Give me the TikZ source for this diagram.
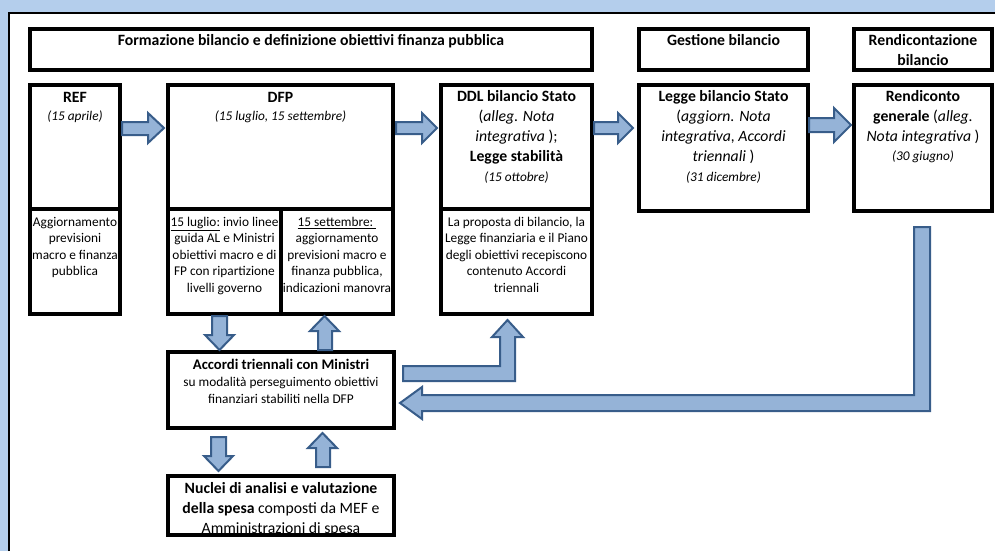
\documentclass[tikz,border=0pt]{standalone}
\usepackage{fontspec}
\setmainfont{Carlito}
\usetikzlibrary{positioning, fit}
\definecolor{slideblue}{RGB}{180,206,236}
\definecolor{arrowfill}{RGB}{149,179,215}
\definecolor{arrowline}{RGB}{56,93,138}
\newcommand{\datesz}{\fontsize{10}{12.4}\selectfont\itshape}
\tikzset{
	box/.style={draw, line width=2.3pt, inner sep=0pt},
	bigtext/.style={align=center, inner sep=1pt, font=\fontsize{11.8}{15}\selectfont},
	smalltext/.style={align=center, inner sep=1pt, font=\fontsize{10}{12.4}\selectfont},
	blockarrow/.style={fill=arrowfill, draw=arrowline, line width=1.5pt, line join=miter}
}

\begin{document}
\begin{tikzpicture}[x=0.75pt, y=-0.75pt]
		\useasboundingbox (0,0) rectangle (995,551);
		
		% Slide background
		\fill[slideblue] (0,0) rectangle (995,551);
		\fill[white] (9,13) rectangle (995,551);
		\draw[line width=1.5pt] (9,551) -- (9,13) -- (995,13);
		
		% Phase headers
		\node[box, fit={(30,29) (592,70)}] (phaseForm) {};
		\node[box, fit={(639,29) (808,70)}] (phaseGest) {};
		\node[box, fit={(854,29) (992,70)}] (phaseRend) {};
		\node[bigtext, below=4pt of phaseForm.north] (phaseFormT) {\textbf{Formazione bilancio e definizione obiettivi finanza pubblica}};
		\node[bigtext, below=4pt of phaseGest.north] (phaseGestT) {\textbf{Gestione bilancio}};
		\node[bigtext, below=4pt of phaseRend.north] (phaseRendT) {\textbf{Rendicontazione}\\\textbf{bilancio}};
		
		% Documents (upper row)
		\node[box, fit={(30,85) (120,209)}] (ref) {};
		\node[box, fit={(30,209) (120,314)}] (refNote) {};
		\node[box, fit={(168,85) (393,209)}] (dfp) {};
		\node[box, fit={(168,209) (281,314)}] (dfpJul) {};
		\node[box, fit={(281,209) (393,314)}] (dfpSep) {};
		\node[box, fit={(441,85) (592,209)}] (ddl) {};
		\node[box, fit={(441,209) (592,314)}] (ddlNote) {};
		\node[box, fit={(639,85) (808,211)}] (legge) {};
		\node[box, fit={(854,85) (992,211)}] (rendiconto) {};
		
		\node[bigtext, below=5.5pt of ref.north] (refT) {\textbf{REF}\\[-1.5pt]{\datesz (15 aprile)}};
		\node[smalltext, below=6pt of refNote.north] (refNoteT) {Aggiornamento\\previsioni\\macro e finanza\\pubblica};
		\node[bigtext, below=5.5pt of dfp.north] (dfpT) {\textbf{DFP}\\[-1.5pt]{\datesz (15 luglio, 15 settembre)}};
		\node[smalltext, below=6pt of dfpJul.north] (dfpJulT) {\underline{15 luglio:} invio linee\\guida AL e Ministri\\obiettivi macro e di\\FP con ripartizione\\livelli governo};
		\node[smalltext, below=6pt of dfpSep.north] (dfpSepT) {\underline{15 settembre:\ }\\aggiornamento\\previsioni macro e\\finanza pubblica,\\indicazioni manovra};
		\node[bigtext, below=4pt of ddl.north] (ddlT) {\textbf{DDL bilancio Stato}\\(\textit{alleg. Nota}\\\textit{integrativa} );\\\textbf{Legge stabilità}\\{\datesz (15 ottobre)}};
		\node[smalltext, below=6pt of ddlNote.north] (ddlNoteT) {La proposta di bilancio, la\\Legge finanziaria e il Piano\\degli obiettivi recepiscono\\contenuto Accordi\\triennali};
		\node[bigtext, below=4pt of legge.north] (leggeT) {\textbf{Legge bilancio Stato}\\(\textit{aggiorn. Nota}\\\textit{integrativa, Accordi}\\\textit{triennali} )\\{\datesz (31 dicembre)}};
		\node[bigtext, below=4pt of rendiconto.north] (rendicontoT) {\textbf{Rendiconto}\\\textbf{generale} (\textit{alleg.}\\\textit{Nota integrativa} )\\[-1pt]{\datesz (30 giugno)}};
		
		% Agreements and review units
		\node[box, fit={(168,352) (394,428)}] (accordi) {};
		\node[box, fit={(168,476) (394,535)}] (nuclei) {};
		\node[align=center, inner sep=1pt, below=5pt of accordi.north, font=\fontsize{10}{12.8}\selectfont] (accordiT) {{\fontsize{11}{13}\selectfont\bfseries Accordi triennali con Ministri}\\su modalità perseguimento obiettivi\\finanziari stabiliti nella DFP};
		\node[align=center, inner sep=1pt, below=4.5pt of nuclei.north, font=\fontsize{11.8}{15}\selectfont] (nucleiT) {\textbf{Nuclei di analisi e valutazione}\\\textbf{della spesa} composti da MEF e\\Amministrazioni di spesa};
		
		% Block arrows, upper row
		\draw[blockarrow] (122,122) -- (148,122) -- (148,113) -- (164,128) -- (148,143) -- (148,135) -- (122,135) -- cycle; % REF => DFP
		\draw[blockarrow] (396,122) -- (422,122) -- (422,113) -- (437,128) -- (422,143) -- (422,134) -- (396,134) -- cycle; % DFP => DDL
		\draw[blockarrow] (594,122) -- (618,122) -- (618,113) -- (633,128) -- (618,143) -- (618,134) -- (594,134) -- cycle; % DDL => Legge
		\draw[blockarrow] (809,118) -- (834,118) -- (834,108) -- (851,125) -- (834,142) -- (834,132) -- (809,132) -- cycle; % Legge => Rendiconto
		
		% Block arrows, DFP <=> Accordi <=> Nuclei
		\draw[blockarrow] (212,316) -- (227,316) -- (227,335) -- (234,335) -- (219.5,350) -- (205,335) -- (212,335) -- cycle; % DFP => Accordi
		\draw[blockarrow] (318,350) -- (318,331) -- (310,331) -- (324.5,316) -- (339,331) -- (332,331) -- (332,350) -- cycle; % Accordi => DFP
		\draw[blockarrow] (211,437) -- (226,437) -- (226,456) -- (233,456) -- (218.5,471) -- (204,456) -- (211,456) -- cycle; % Accordi => Nuclei
		\draw[blockarrow] (316,467) -- (316,448) -- (308,448) -- (322.5,433) -- (337,448) -- (330,448) -- (330,467) -- cycle; % Nuclei => Accordi
		
		% Elbow arrows
		\draw[blockarrow] (403,366) -- (500,366) -- (500,337) -- (492,337) -- (507.5,320) -- (523,337) -- (515,337) -- (515,381) -- (403,381) -- cycle; % Accordi => DDL
		\draw[blockarrow] (914,227) -- (930,227) -- (930,411) -- (422,411) -- (422,419) -- (400,403) -- (422,387) -- (422,395) -- (914,395) -- cycle; % Rendiconto => Accordi
		
	\end{tikzpicture}
\end{document}
